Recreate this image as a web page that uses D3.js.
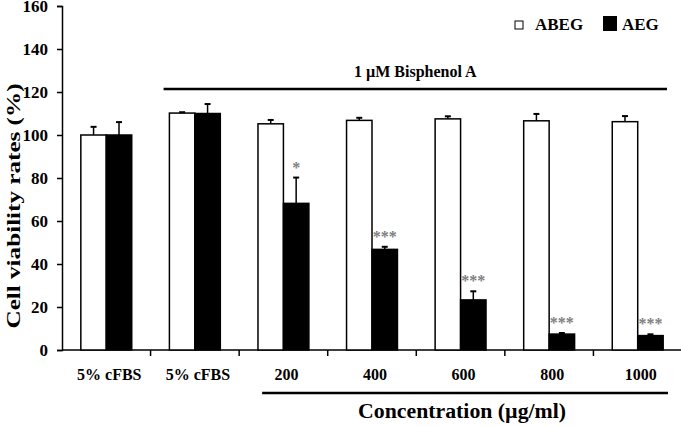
<!DOCTYPE html>
<html>
<head>
<meta charset="utf-8">
<script src="https://cdn.jsdelivr.net/npm/d3@7"></script>
<style>
  body { margin: 0; background: #fff; }
  text { font-family: "Liberation Serif", "Times New Roman", serif; font-weight: bold; }
</style>
</head>
<body>
<div id="chart"></div>
<script>
// values
var categories = ["5% cFBS", "5% cFBS", "200", "400", "600", "800", "1000"];
var seriesNames = ["ABEG", "AEG"];
var abeg    = [100, 110.2, 105.2, 106.8, 107.5, 106.6, 106.2];
var abegErr = [3.8, 0.4, 1.8, 1.2, 1.2, 3.2, 2.6];
var aeg     = [100, 110.0, 68.2, 46.8, 23.3, 7.4, 6.7];
var aegErr  = [6.0, 4.4, 12.0, 1.2, 4.0, 0.5, 0.6];
var signif  = ["", "", "*", "***", "***", "***", "***"];
var yTicks  = [0, 20, 40, 60, 80, 100, 120, 140, 160];

var W = 681, H = 426;
var plotLeft = 62, plotRight = 682, plotTop = 6, plotBottom = 350;

var svg = d3.select("#chart").append("svg")
    .attr("width", W).attr("height", H);

var x = d3.scaleBand().domain(d3.range(categories.length)).range([plotLeft, plotRight]).padding(0);
var x1 = d3.scaleBand().domain(seriesNames).range([0, x.bandwidth()]).paddingOuter(0.74).paddingInner(0);
var y = d3.scaleLinear().domain([0, 160]).range([plotBottom, plotTop]);

// y axis
var yAxis = svg.append("g")
    .attr("transform", "translate(" + plotLeft + ",0)")
    .call(d3.axisLeft(y).tickValues(yTicks).tickSize(5).tickPadding(9));
yAxis.select(".domain").attr("stroke-width", 1.5);
yAxis.selectAll(".tick line").attr("stroke-width", 1.5);
yAxis.selectAll(".tick text").attr("font-size", 17).attr("fill", "#000")
    .attr("font-family", "Liberation Serif").attr("font-weight", "bold");

// x axis (ticks between groups)
var xAxisG = svg.append("g").attr("transform", "translate(0," + plotBottom + ")");
xAxisG.append("line").attr("x1", plotLeft).attr("x2", plotRight).attr("stroke", "#000").attr("stroke-width", 1.5);
xAxisG.selectAll(".sep").data(d3.range(1, categories.length))
  .enter().append("line")
    .attr("x1", function(i) { return x(i); }).attr("x2", function(i) { return x(i); })
    .attr("y1", 0).attr("y2", 6).attr("stroke", "#000").attr("stroke-width", 1.5);
xAxisG.selectAll(".lbl").data(categories)
  .enter().append("text")
    .attr("x", function(d, i) { return x(i) + x.bandwidth() / 2 + 3; })
    .attr("y", 30)
    .attr("text-anchor", "middle")
    .attr("font-size", 16)
    .text(function(d) { return d; });

// bars
var groups = svg.selectAll(".grp").data(categories)
  .enter().append("g")
    .attr("transform", function(d, i) { return "translate(" + x(i) + ",0)"; });

function drawSeries(vals, errs, name, fill) {
  groups.append("rect")
    .attr("x", x1(name))
    .attr("width", x1.bandwidth())
    .attr("y", function(d, i) { return y(vals[i]); })
    .attr("height", function(d, i) { return plotBottom - y(vals[i]); })
    .attr("fill", fill).attr("stroke", "#000").attr("stroke-width", 1.5);
  var cx = x1(name) + x1.bandwidth() / 2;
  groups.append("line")
    .attr("x1", cx).attr("x2", cx)
    .attr("y1", function(d, i) { return y(vals[i]); })
    .attr("y2", function(d, i) { return y(vals[i] + errs[i]); })
    .attr("stroke", "#000").attr("stroke-width", 1.5);
  groups.append("line")
    .attr("x1", cx - 3).attr("x2", cx + 3)
    .attr("y1", function(d, i) { return y(vals[i] + errs[i]); })
    .attr("y2", function(d, i) { return y(vals[i] + errs[i]); })
    .attr("stroke", "#000").attr("stroke-width", 2);
}
drawSeries(abeg, abegErr, "ABEG", "#fff");
drawSeries(aeg, aegErr, "AEG", "#000");

// significance marks
groups.append("text")
    .attr("x", x1("AEG") + x1.bandwidth() / 2)
    .attr("y", function(d, i) { return y(aeg[i] + aegErr[i]) - 5; })
    .attr("text-anchor", "middle")
    .attr("font-size", 16)
    .attr("fill", "#808080")
    .text(function(d, i) { return signif[i]; });

// y title
svg.append("text")
    .attr("transform", "translate(20," + 206 + ") rotate(-90)")
    .attr("text-anchor", "middle")
    .attr("font-size", 18)
    .attr("textLength", 245)
    .attr("lengthAdjust", "spacingAndGlyphs")
    .text("Cell viability rates (%)");

// legend
var legend = svg.append("g").attr("transform", "translate(515,0)");
legend.append("rect").attr("x", 0).attr("y", 21).attr("width", 8).attr("height", 8)
    .attr("fill", "#fff").attr("stroke", "#000").attr("stroke-width", 1);
legend.append("text").attr("x", 20).attr("y", 30).attr("font-size", 17).text(seriesNames[0]);
legend.append("rect").attr("x", 88).attr("y", 16).attr("width", 14).attr("height", 15)
    .attr("fill", "#000");
legend.append("text").attr("x", 107).attr("y", 30).attr("font-size", 17).text(seriesNames[1]);

// treatment bracket
var bx1 = x(1) + 13, bx2 = x(6) + x.bandwidth() - 15;
svg.append("line")
    .attr("x1", bx1).attr("x2", bx2)
    .attr("y1", 89).attr("y2", 89)
    .attr("stroke", "#000").attr("stroke-width", 2.5);
svg.append("text")
    .attr("x", (bx1 + bx2) / 2)
    .attr("y", 77).attr("text-anchor", "middle")
    .attr("font-size", 16)
    .text("1 \u00b5M Bisphenol A");

// concentration bracket
var cx1 = x(2) + 23, cx2 = x(6) + x.bandwidth() - 14;
svg.append("line")
    .attr("x1", cx1).attr("x2", cx2)
    .attr("y1", 393).attr("y2", 393)
    .attr("stroke", "#000").attr("stroke-width", 2.5);
svg.append("text")
    .attr("x", (cx1 + cx2) / 2 - 3)
    .attr("y", 418).attr("text-anchor", "middle")
    .attr("font-size", 20)
    .attr("textLength", 208)
    .attr("lengthAdjust", "spacingAndGlyphs")
    .text("Concentration  (\u00b5g/ml)");
</script>
</body>
</html>
